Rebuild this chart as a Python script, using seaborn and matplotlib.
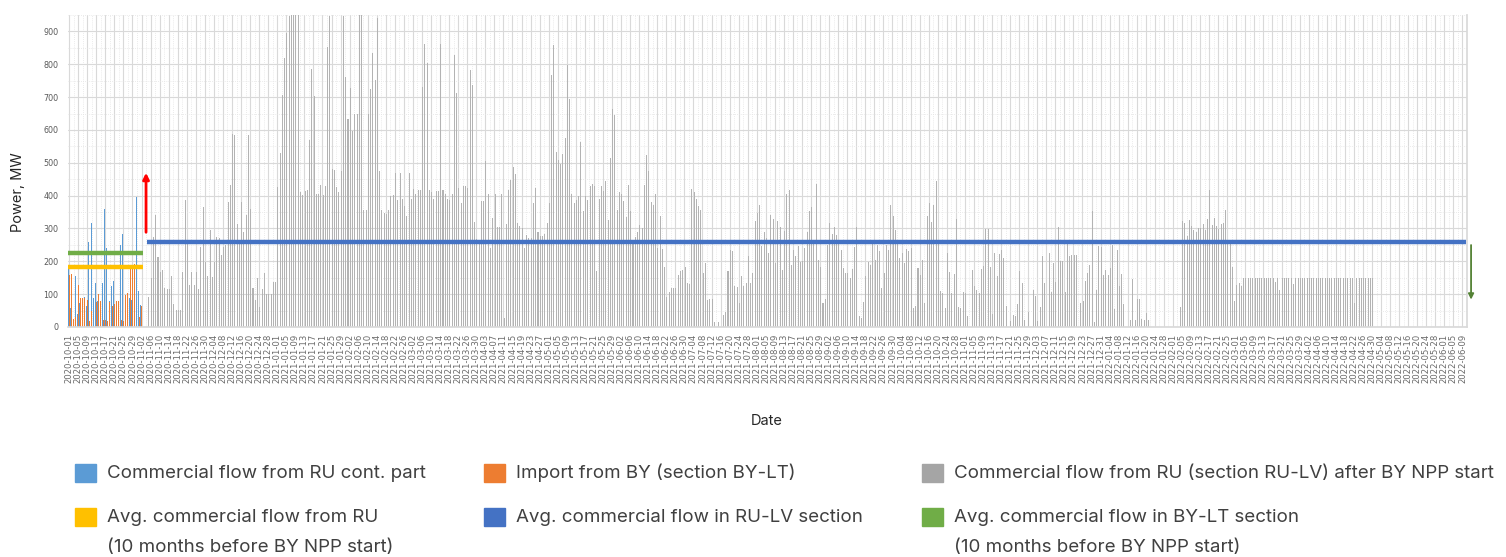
import numpy as np
import pandas as pd
import matplotlib
matplotlib.use("Agg")
import matplotlib.pyplot as plt
import seaborn as sns
from matplotlib.patches import Rectangle

# daily axis, 2020-10-01 .. 2022-06-10
dates = pd.date_range("2020-10-01", "2022-06-10", freq="D")

# commercial flow from RU cont. part, from 2020-10-01
ru_cont = [190, 57, 277, 155, 40, 72, 69, 90, 65, 258,
           318, 88, 135, 78, 20, 135, 360, 241, 80, 125,
           141, 50, 30, 250, 284, 67, 20, 88, 82, 30,
           396, 110, 67]

# import from BY (section BY-LT), from 2020-10-01
by_import = [158, 160, 25, 30, 128, 88, 88, 88, 82, 18,
             50, 55, 75, 100, 78, 20, 22, 18, 75, 65,
             70, 78, 78, 20, 18, 98, 103, 185, 188, 192,
             45, 30, 64]

# commercial flow RU-LV after BY NPP start, from 2020-11-05
gray_start = "2020-11-05"
gray_a = [92, 148, 273, 341, 214, 166, 173, 120, 115, 115,
          155, 71, 51, 51, 51, 168, 387, 260, 127, 168,
          127, 166, 115, 243, 365, 197, 156, 296, 151, 199,
          273, 270, 219, 245, 251, 382, 433, 588, 584, 313,
          265, 382, 290, 341, 586, 360, 120, 82, 148, 61,
          117, 165, 102, 102, 102, 138, 138, 426, 530, 705,
          818, 895, 948, 950, 950, 950, 950]
gray_b = [412, 403, 415, 416, 568, 785, 703, 406, 406, 433,
          403, 430, 854, 948, 481, 479, 425, 411, 476, 948,
          762, 634, 729, 598, 649, 649, 950, 950, 355, 355,
          649, 726, 834, 751, 940, 476, 355, 347, 344, 355,
          398, 403, 470, 388, 469, 390, 369, 338, 470, 390,
          420, 405, 418, 418, 730, 861, 805, 418, 410, 390,
          415, 413, 861, 416, 405, 390, 388, 405, 828, 713,
          423, 377, 430, 428, 423, 782, 736, 319, 268, 265,
          385, 385, 505, 405, 242, 332, 405, 306, 306, 405,
          26, 313, 418, 449, 487, 466, 316, 308, 301]
gray_c = [242, 281, 271, 271, 379, 423, 288, 276, 278, 283,
          316, 379, 766, 858, 532, 508, 495, 528, 576, 797,
          695, 406, 377, 388, 400, 564, 354, 398, 388, 428,
          436, 428, 169, 390, 428, 415, 444, 325, 515, 664,
          644, 357, 410, 405, 385, 335, 433, 354, 266, 273,
          288, 311, 300, 433, 525, 476, 380, 370, 406, 242,
          339, 237, 184, 90, 106, 118, 118, 118, 159, 169,
          174, 184, 133, 131, 421, 410, 390, 367, 357, 164,
          194, 82, 86, 86, 16, 0, 14, 0, 37, 47,
          169, 235, 230, 125, 123, 72, 156, 125, 133, 215]
gray_d = [135, 164, 323, 347, 372, 248, 289, 272, 225, 340,
          328, 194, 323, 306, 174, 291, 406, 418, 189, 233,
          217, 248, 197, 200, 240, 289, 352, 365, 266, 436,
          204, 184, 72, 84, 250, 316, 283, 306, 279, 266,
          235, 179, 164, 164, 149, 176, 245, 306, 32, 26,
          77, 154, 199, 189, 266, 205, 250, 230, 118, 164,
          250, 235, 372, 339, 296, 266, 210, 225, 194, 237,
          232, 240, 57, 64, 181, 157, 204, 72, 337, 377,
          321, 370, 444, 266, 110, 103, 57, 225, 167, 103,
          162, 329, 62, 59, 108, 103, 32, 0, 174, 125]
gray_e = [113, 105, 177, 186, 298, 298, 184, 39, 225, 154,
          222, 235, 210, 64, 0, 19, 37, 34, 70, 169,
          135, 21, 0, 47, 0, 113, 93, 18, 60, 215,
          133, 0, 225, 108, 196, 138, 304, 201, 202, 108,
          255, 215, 220, 220, 220, 0, 72, 80, 141, 164,
          189, 354, 16, 113, 247, 243, 159, 174, 159, 181,
          250, 54, 233, 125, 162, 70, 0, 0, 21, 145,
          21, 85, 84, 23, 21, 42, 21, 0, 0, 0,
          0, 0, 0, 0, 0, 0, 0, 0, 0, 0,
          62, 323, 316, 278, 325, 309, 294, 289, 301, 301,
          313, 296, 329, 416, 311, 332, 309, 298, 314, 316,
          357, 255, 255, 184, 79, 128, 133, 125, 149]
gray_f = [149, 149, 149, 149, 149, 149, 149, 149, 149, 149,
          149, 149, 149, 138, 149, 113, 149, 149, 149, 149,
          149, 131, 149, 149, 149, 149, 149, 149, 149, 149,
          149, 149, 149, 149, 149, 149, 149, 149, 149, 149,
          149, 149, 149, 149, 149, 149, 149, 149, 72, 149,
          149, 149, 149, 149, 149, 149, 149]

avg_ru = 183        # 10 months before BY NPP start
avg_by_lt = 225     # 10 months before BY NPP start
avg_ru_lv = 260

gray = gray_a + gray_b + gray_c + gray_d + gray_e + gray_f

sns.set_theme(style="white")
plt.rcParams["font.family"] = ["Inter", "DejaVu Sans"]

W, H = 1506, 557
fig = plt.figure(figsize=(W / 100, H / 100), dpi=100)
ax = fig.add_axes([68 / W, 1 - 327 / H, (1467 - 68) / W, (327 - 15) / H])

day = np.arange(len(dates))
g0 = dates.get_loc(pd.Timestamp(gray_start))
ru_x = day[:len(ru_cont)] - 0.29
by_x = day[:len(by_import)] + 0.0
gray_x = day[g0:g0 + len(gray)] + 0.29

sns.barplot(x=ru_x, y=ru_cont, native_scale=True, orient="x", width=0.42,
            color="#5b9bd5", saturation=1, linewidth=0, errorbar=None, ax=ax)
sns.barplot(x=by_x, y=by_import, native_scale=True, orient="x", width=0.42,
            color="#ed7d31", saturation=1, linewidth=0, errorbar=None, ax=ax)
sns.barplot(x=gray_x, y=gray, native_scale=True, orient="x", width=0.45,
            color="#b3b3b3", saturation=1, linewidth=0, errorbar=None, ax=ax)

# average lines
ax.plot([-0.5, 32.5], [avg_by_lt, avg_by_lt], color="#70ad47", lw=3.2, solid_capstyle="butt", zorder=5)
ax.plot([-0.5, 32.5], [avg_ru, avg_ru], color="#ffc000", lw=3.2, solid_capstyle="butt", zorder=5)
ax.plot([34.3, 617.5], [avg_ru_lv, avg_ru_lv], color="#4472c4", lw=3.2, solid_capstyle="butt", zorder=5)

# arrows
ax.annotate("", xy=(34, 478), xytext=(34, 280),
            arrowprops=dict(arrowstyle="-|>", color="#ff0000", lw=2, mutation_scale=9))
ax.annotate("", xy=(619.8, 75), xytext=(619.8, 258), annotation_clip=False,
            arrowprops=dict(arrowstyle="-|>", color="#548235", lw=1.3, mutation_scale=8))

ax.set_xlim(-0.5, 617.5)
ax.set_ylim(0, 950)
ax.set_yticks(range(0, 1000, 100))
ax.set_yticks(range(50, 1000, 100), minor=True)
ticks = day[::4]
ax.set_xticks(ticks)
ax.set_xticks(ticks + 2, minor=True)
ax.set_xticklabels(dates[::4].strftime("%Y-%m-%d"), rotation=90,
                   fontsize=6.1, color="#6a6a6a", family="DejaVu Sans")
ax.tick_params(axis="y", labelsize=5.8, labelcolor="#595959", length=0, pad=7)
ax.tick_params(axis="x", length=0, pad=5)
for t in ax.get_yticklabels():
    t.set_family("DejaVu Sans")

ax.set_axisbelow(True)
ax.grid(which="major", axis="both", color="#d9d9d9", lw=0.8)
ax.grid(which="minor", axis="both", color="#e4e4e4", lw=0.6, ls=(0, (1, 1.5)))
for s in ["left", "top"]:
    ax.spines[s].set_visible(False)
ax.spines["right"].set_color("#d9d9d9")
ax.spines["bottom"].set_color("#d9d9d9")
ax.set_xlabel("")
ax.set_ylabel("")

fig.text(18 / W, 1 - 192 / H, "Power, MW", rotation=90, ha="center", va="center",
         fontsize=10.5, color="#262626")
fig.text(767 / W, 1 - 421 / H, "Date", ha="center", va="center", fontsize=10.5, color="#262626")

# legend
legend_items = [
    (75, 473, "#5b9bd5", "Commercial flow from RU cont. part"),
    (484, 473, "#ed7d31", "Import from BY (section BY-LT)"),
    (922, 473, "#a5a5a5", "Commercial flow from RU (section RU-LV) after BY NPP start"),
    (75, 517, "#ffc000", "Avg. commercial flow from RU"),
    (484, 517, "#4472c4", "Avg. commercial flow in RU-LV section"),
    (922, 517, "#70ad47", "Avg. commercial flow in BY-LT section"),
]
for lx, ly, col, txt in legend_items:
    fig.patches.append(Rectangle(((lx) / W, 1 - (ly + 9) / H), 21 / W, 18 / H,
                                 transform=fig.transFigure, color=col, figure=fig))
    fig.text((lx + 32) / W, 1 - ly / H, txt, ha="left", va="center", fontsize=13.5, color="#404040")
fig.text(107 / W, 1 - 548 / H, "(10 months before BY NPP start)", ha="left", va="center",
         fontsize=13.5, color="#404040")
fig.text(954 / W, 1 - 548 / H, "(10 months before BY NPP start)", ha="left", va="center",
         fontsize=13.5, color="#404040")

fig.savefig("out.png", dpi=100)
